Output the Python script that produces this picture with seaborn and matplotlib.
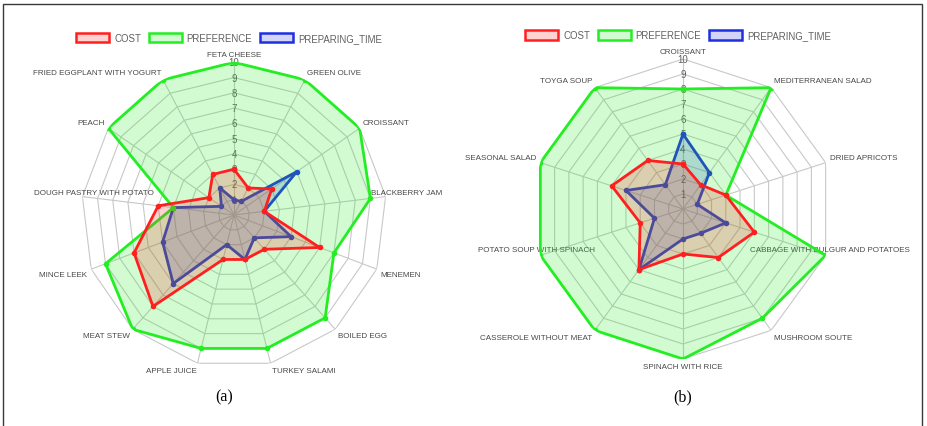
import numpy as np
import pandas as pd
import matplotlib
matplotlib.use("Agg")
import matplotlib.pyplot as plt
from matplotlib.patches import Rectangle, Patch
from matplotlib.transforms import offset_copy
from matplotlib.colors import to_rgba
import seaborn as sns

# ---- data -----------------------------------------------------------------
labels_a = ["FETA CHEESE", "GREEN OLIVE", "CROISSANT", "BLACKBERRY JAM", "MENEMEN",
            "BOILED EGG", "TURKEY SALAMI", "APPLE JUICE", "MEAT STEW", "MINCE LEEK",
            "DOUGH PASTRY WITH POTATO", "PEACH", "FRIED EGGPLANT WITH YOGURT"]
cost_a = [3, 2, 3, 2, 6, 3, 3, 3, 8, 7, 5, 2, 3]
preference_a = [10, 10, 10, 9, 7, 9, 9, 9, 10, 9, 4, 10, 10]
preparing_time_a = [1, 1, 5, 2, 4, 2, 3, 2, 6, 5, 4, 1, 2]

labels_b = ["CROISSANT", "MEDITERRANEAN SALAD", "DRIED APRICOTS",
            "CABBAGE WITH BULGUR AND POTATOES", "MUSHROOM SOUTE", "SPINACH WITH RICE",
            "CASSEROLE WITHOUT MEAT", "POTATO SOUP WITH SPINACH", "SEASONAL SALAD",
            "TOYGA SOUP"]
cost_b = [3, 2, 3, 5, 4, 3, 5, 3, 5, 4]
preference_b = [8, 10, 3, 10, 9, 10, 10, 10, 10, 10]
preparing_time_b = [5, 3, 1, 3, 2, 2, 5, 2, 4, 2]

series_names = ["COST", "PREFERENCE", "PREPARING_TIME"]
scale_ticks = list(range(1, 11))
captions = ["(a)", "(b)"]

# ---- style ----------------------------------------------------------------
W, H = 927, 427
sns.set_style("white")
plt.rcParams["font.family"] = ["Liberation Sans", "DejaVu Sans"]

COLORS = {"COST": "#ff1f1f", "PREFERENCE": "#22ee22", "PREPARING_TIME": "#1f2fe0"}
FILL_ALPHA = 0.2
GRID = "#c8c8c8"
TEXT = "#484848"

fig = plt.figure(figsize=(W / 100, H / 100), dpi=100)


def box(cx, cy, r):
    """Axes rectangle (figure fraction) for a radar centred at (cx, cy) px."""
    return [(cx - r) / W, (H - cy - r) / H, 2 * r / W, 2 * r / H]


def radar(rect, labels, series, nudges):
    ax = fig.add_axes(rect, projection="polar")
    ax.set_theta_zero_location("N")
    ax.set_theta_direction(-1)
    n = len(labels)
    theta = np.arange(n) * 2 * np.pi / n
    theta_c = np.append(theta, 2 * np.pi)

    # polygonal grid and spokes
    for lv in scale_ticks:
        ax.plot(theta_c, [lv] * (n + 1), color=GRID, lw=0.8, zorder=1)
    for t in theta:
        ax.plot([t, t], [0, scale_ticks[-1]], color=GRID, lw=0.8, zorder=1)

    # value ticks along the first spoke
    for lv in scale_ticks:
        ax.text(0, lv, str(lv), ha="center", va="center", fontsize=7.0,
                color="#606060", zorder=1.5)

    # category labels around the outside
    for i, lab in enumerate(labels):
        deg = i * 360 / n
        if np.isclose(deg, 0) or np.isclose(deg, 180):
            ha = "center"
        elif deg < 180:
            ha = "left"
        else:
            ha = "right"
        if np.isclose(deg, 90) or np.isclose(deg, 270):
            va = "center"
        elif deg < 90 or deg > 270:
            va = "bottom"
        else:
            va = "top"
        dx, dy = 0, 0
        if lab in nudges:
            ha, va, dx, dy = nudges[lab]
        tr = offset_copy(ax.transData, fig=fig, x=dx, y=dy, units="dots")
        ax.text(theta[i], 10.27, lab, ha=ha, va=va, fontsize=5.8, color=TEXT,
                transform=tr, zorder=1.5)

    # datasets: the first series ends up on top
    z = 3
    for name in reversed(series_names):
        vals = np.asarray(series[name], dtype=float)
        v_c = np.append(vals, vals[0])
        ax.fill(theta_c, v_c, color=COLORS[name], alpha=FILL_ALPHA, lw=0, zorder=z)
        df = pd.DataFrame({"theta": theta_c, "value": v_c})
        sns.lineplot(data=df, x="theta", y="value", sort=False, estimator=None,
                     color=COLORS[name], lw=2.0, marker="o", markersize=4.0,
                     markeredgewidth=0, ax=ax, zorder=z + 1, legend=False)
        z += 2

    ax.set_ylim(0, 10)
    ax.axis("off")
    return ax


ax_a = radar(box(234, 216, 152.7), labels_a,
             {"COST": cost_a, "PREFERENCE": preference_a, "PREPARING_TIME": preparing_time_a},
             {"BLACKBERRY JAM": ("left", "bottom", -19, 0),
              "DOUGH PASTRY WITH POTATO": ("right", "bottom", 76, 0)})
ax_b = radar(box(683, 210, 150), labels_b,
             {"COST": cost_b, "PREFERENCE": preference_b, "PREPARING_TIME": preparing_time_b},
             {"CABBAGE WITH BULGUR AND POTATOES": ("center", "center", 0, 7.5),
              "POTATO SOUP WITH SPINACH": ("center", "center", 0, 7.5)})

# legends
handles = [Patch(facecolor=to_rgba(COLORS[s], FILL_ALPHA), edgecolor=COLORS[s], lw=1.8)
           for s in series_names]
for cx, cy in [(229, 38.7), (678, 36)]:
    fig.legend(handles, series_names, loc="center", bbox_to_anchor=(cx / W, 1 - cy / H),
               ncol=3, frameon=False, fontsize=6.9, handlelength=3.45, handleheight=1.15,
               handletextpad=0.5, columnspacing=0.8, labelcolor="#606060",
               borderpad=0, borderaxespad=0)

# captions
for cx, cap in zip([224, 683], captions):
    fig.text(cx / W, 1 - 397 / H, cap, ha="center", va="center", fontsize=11.5,
             family="Liberation Serif", color="black")

# outer frame
fig.add_artist(Rectangle((3 / W, -0.1), (922 - 3) / W, (H - 5) / H + 0.1,
                         transform=fig.transFigure, fill=False, ec="#3a3a3a", lw=1.0))

fig.savefig("out.png", dpi=100)
